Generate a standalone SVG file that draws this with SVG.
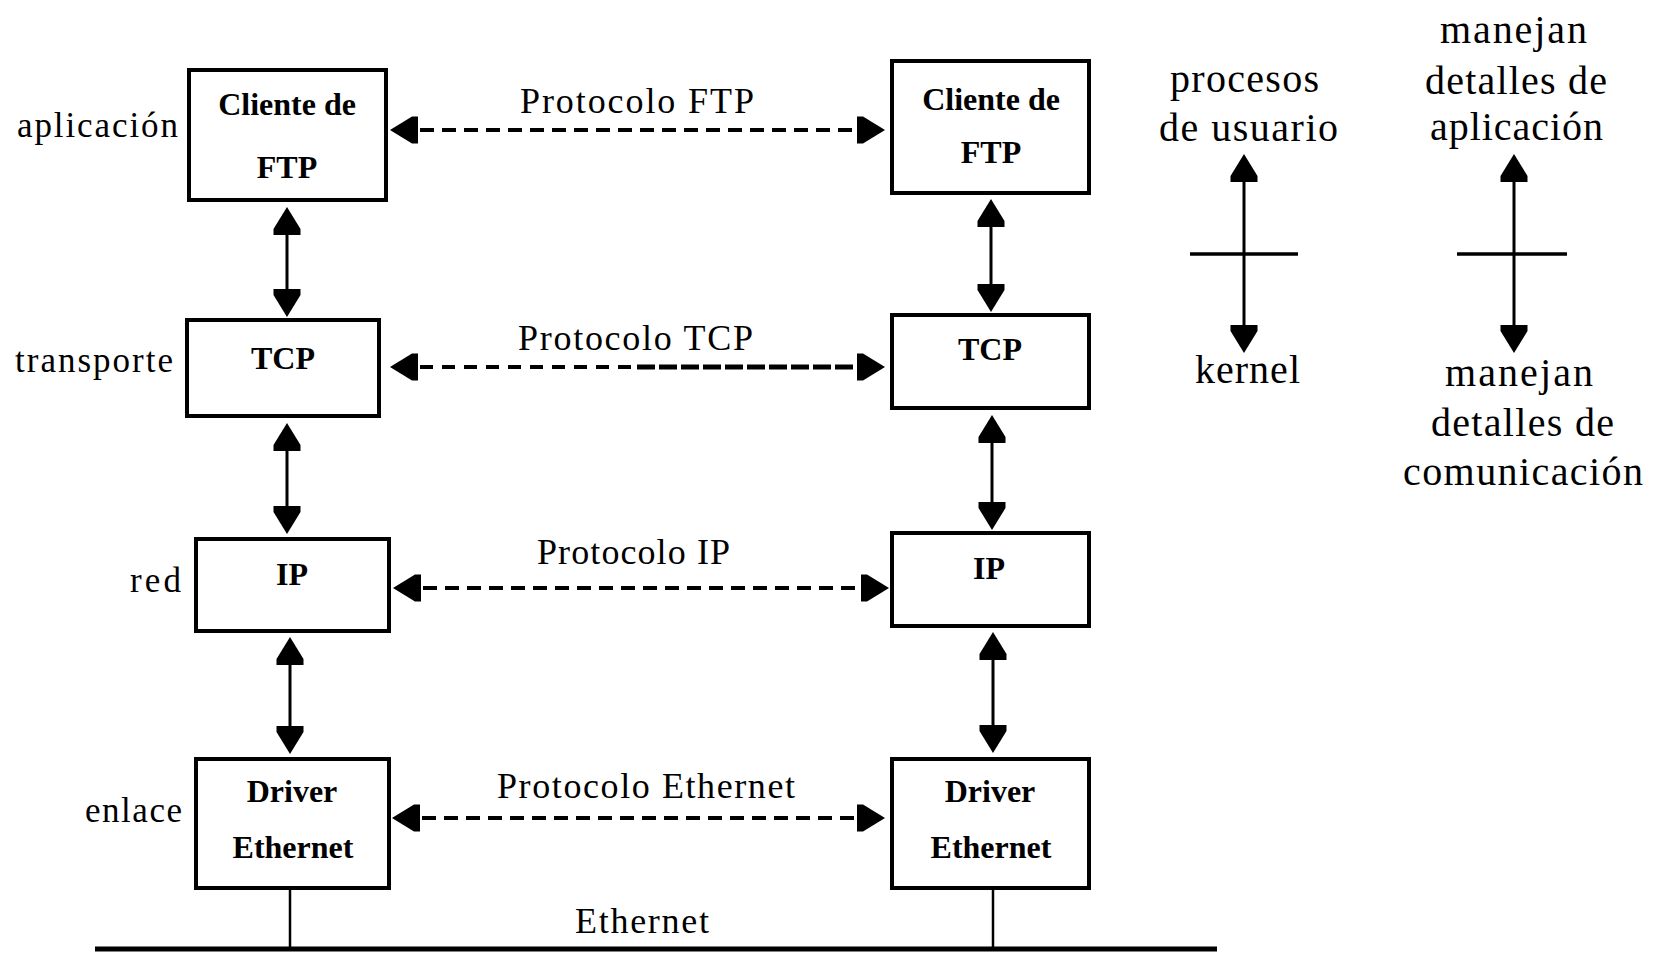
<svg xmlns="http://www.w3.org/2000/svg" width="1654" height="953" viewBox="0 0 1654 953">
  <style>
    .box { fill: #fff; stroke: #000; stroke-width: 4; }
    .bt { font-family: "Liberation Serif", "Times New Roman", serif; font-weight: bold; font-size: 32px; fill: #000; text-anchor: middle; }
    .lbl { font-family: "Liberation Serif", "Times New Roman", serif; font-size: 35px; fill: #000; }
    .proto { font-family: "Liberation Serif", "Times New Roman", serif; font-size: 36px; fill: #000; }
    .note { font-family: "Liberation Serif", "Times New Roman", serif; font-size: 40px; fill: #000; }
    .dash { fill: none; stroke: #000; stroke-width: 4; stroke-dasharray: 14 8; marker-start: url(#head); marker-end: url(#head); }
    .solid { fill: none; stroke: #000; stroke-width: 3; marker-start: url(#head); marker-end: url(#head); }
    .wire { fill: none; stroke: #000; }
  </style>
  <defs>
    <!-- block arrowhead: tip at +8 so it reaches past the line end -->
    <marker id="head" viewBox="-20 -14 28 28" refX="0" refY="0" markerWidth="28" markerHeight="28" markerUnits="userSpaceOnUse" orient="auto-start-reverse">
      <path d="M8,0 L-14,-13.5 L-20,-13.5 L-20,13.5 L-14,13.5 Z" fill="#000"/>
    </marker>
    <marker id="headEnd" viewBox="-20 -14 28 28" refX="0" refY="0" markerWidth="28" markerHeight="28" markerUnits="userSpaceOnUse" orient="auto">
      <path d="M8,0 L-14,-13.5 L-20,-13.5 L-20,13.5 L-14,13.5 Z" fill="#000"/>
    </marker>
  </defs>

  <rect width="1654" height="953" fill="#fff"/>

  <!-- layer names, left margin -->
  <g id="layer-labels">
    <text class="lbl" x="178" y="137" text-anchor="end" textLength="161" lengthAdjust="spacing">aplicación</text>
    <text class="lbl" x="173" y="372" text-anchor="end" textLength="158" lengthAdjust="spacing">transporte</text>
    <text class="lbl" x="181" y="592" text-anchor="end" textLength="51" lengthAdjust="spacing">red</text>
    <text class="lbl" x="182" y="822" text-anchor="end" textLength="97" lengthAdjust="spacing">enlace</text>
  </g>

  <!-- left host stack -->
  <g id="ftp-client-left">
    <rect class="box" x="189" y="70" width="197" height="130"/>
    <text class="bt" x="287" y="115">Cliente de</text>
    <text class="bt" x="287" y="178">FTP</text>
  </g>
  <g id="tcp-left">
    <rect class="box" x="187" y="320" width="192" height="96"/>
    <text class="bt" x="283" y="369">TCP</text>
  </g>
  <g id="ip-left">
    <rect class="box" x="196" y="539" width="193" height="92"/>
    <text class="bt" x="292" y="585">IP</text>
  </g>
  <g id="driver-left">
    <rect class="box" x="196" y="759" width="193" height="129"/>
    <text class="bt" x="292" y="802">Driver</text>
    <text class="bt" x="293" y="858">Ethernet</text>
  </g>

  <!-- right host stack -->
  <g id="ftp-client-right">
    <rect class="box" x="892" y="61" width="197" height="132"/>
    <text class="bt" x="991" y="110">Cliente de</text>
    <text class="bt" x="991" y="163">FTP</text>
  </g>
  <g id="tcp-right">
    <rect class="box" x="892" y="315" width="197" height="93"/>
    <text class="bt" x="990" y="360">TCP</text>
  </g>
  <g id="ip-right">
    <rect class="box" x="892" y="533" width="197" height="93"/>
    <text class="bt" x="989" y="579">IP</text>
  </g>
  <g id="driver-right">
    <rect class="box" x="892" y="759" width="197" height="129"/>
    <text class="bt" x="990" y="802">Driver</text>
    <text class="bt" x="991" y="858">Ethernet</text>
  </g>

  <!-- peer protocol labels -->
  <g id="protocol-labels">
    <text class="proto" x="520" y="113" textLength="234" lengthAdjust="spacing">Protocolo FTP</text>
    <text class="proto" x="518" y="350" textLength="235" lengthAdjust="spacing">Protocolo TCP</text>
    <text class="proto" x="537" y="564" textLength="193" lengthAdjust="spacing">Protocolo IP</text>
    <text class="proto" x="497" y="798" textLength="298" lengthAdjust="spacing">Protocolo Ethernet</text>
  </g>

  <!-- connectors -->
  <g id="connectors">
    <!-- peer-to-peer dashed links -->
    <path class="dash" d="M398,130 H877"/>
    <path fill="none" stroke="#000" stroke-width="4" stroke-dasharray="13 9" marker-start="url(#head)" d="M398,367 H637"/>
    <path fill="none" stroke="#000" stroke-width="5" stroke-dasharray="18 4" marker-end="url(#headEnd)" d="M637,367 H877"/>
    <path class="dash" d="M401,588 H881"/>
    <path class="dash" d="M400,818 H877"/>

    <!-- layer-to-layer links, left stack -->
    <path class="solid" d="M287,215 V309"/>
    <path class="solid" d="M287,431 V526"/>
    <path class="solid" d="M290,645 V746"/>
    <!-- layer-to-layer links, right stack -->
    <path class="solid" d="M991,207 V304"/>
    <path class="solid" d="M992,423 V522"/>
    <path class="solid" d="M993,640 V745"/>

    <!-- attachment to the cable -->
    <path class="wire" stroke-width="2.5" d="M290,890 V947"/>
    <path class="wire" stroke-width="2.5" d="M993,890 V947"/>
    <path class="wire" stroke-width="5" d="M95,949 H1217"/>
  </g>

  <g id="ethernet-cable-label">
    <text class="proto" x="575" y="933" textLength="134" lengthAdjust="spacing">Ethernet</text>
  </g>

  <!-- user / kernel boundary -->
  <g id="user-kernel">
    <text class="note" x="1170" y="92" textLength="149" lengthAdjust="spacing">procesos</text>
    <text class="note" x="1159" y="141" textLength="179" lengthAdjust="spacing">de usuario</text>
    <path class="solid" stroke-width="3.5" d="M1244,162 V345"/>
    <path class="wire" stroke-width="3.5" d="M1190,254 H1298"/>
    <text class="note" x="1195" y="383" textLength="105" lengthAdjust="spacing">kernel</text>
  </g>

  <!-- application / communication boundary -->
  <g id="app-comm">
    <text class="note" x="1440" y="43" textLength="147" lengthAdjust="spacing">manejan</text>
    <text class="note" x="1425" y="94" textLength="182" lengthAdjust="spacing">detalles de</text>
    <text class="note" x="1430" y="140" textLength="173" lengthAdjust="spacing">aplicación</text>
    <path class="solid" stroke-width="3.5" d="M1514,162 V345"/>
    <path class="wire" stroke-width="3.5" d="M1457,254 H1567"/>
    <text class="note" x="1445" y="386" textLength="148" lengthAdjust="spacing">manejan</text>
    <text class="note" x="1431" y="436" textLength="183" lengthAdjust="spacing">detalles de</text>
    <text class="note" x="1403" y="485" textLength="240" lengthAdjust="spacing">comunicación</text>
  </g>
</svg>
